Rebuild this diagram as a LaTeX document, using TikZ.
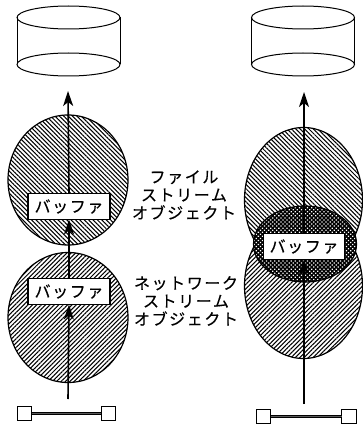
\documentclass[tikz,border=0pt]{standalone}
\usepackage{fontspec}
\newfontfamily\jp[LetterSpace=10,FakeBold=0.4]{Noto Sans CJK JP}
\usetikzlibrary{shapes.geometric,patterns.meta,arrows.meta}
\tikzset{
  lw/.style={line width=1.2pt,draw=black},
  disc/.style={ellipse,line width=1pt,draw=black,inner sep=0pt,outer sep=0pt,minimum width=#1,minimum height=23pt},
  blob/.style n args={2}{ellipse,lw,inner sep=0pt,outer sep=0pt,minimum width=#1,minimum height=#2},
  hatchA/.style={preaction={fill=white},pattern={Lines[angle=45,distance=3.1pt,line width=1.05pt]}},
  hatchB/.style={preaction={fill=white},pattern={Lines[angle=-45,distance=3.1pt,line width=1.05pt]}},
  dotted core/.style={preaction={fill=black},pattern={Dots[radius=0.9pt,distance=2.9pt,angle=45]},pattern color=white},
  buf/.style={rectangle,lw,fill=white,inner sep=0pt,outer sep=0pt,minimum width=#1,minimum height=26pt,font=\jp\fontsize{16}{16}\selectfont},
  flow/.style={line width=1.6pt,-{Stealth[length=15pt,width=10pt,inset=4pt]}},
  port/.style={rectangle,lw,fill=white,inner sep=0pt,outer sep=0pt,minimum size=14.5pt},
  link/.style={line width=1pt,double=gray!70!black,double distance=0.5pt},
  cap text/.style={align=center,font=\jp\fontsize{16}{18}\selectfont,inner sep=0pt}
}
\begin{document}
\begin{tikzpicture}[x=1pt,y=-1pt]
\useasboundingbox (0,0) rectangle (363,425);
% left drum
\node[disc=103pt] (lt) at (68.5,17.5) {};
\node[disc=103pt] (lb) at (68.5,64.5) {};
\draw[line width=1pt] (lt.west) -- (lb.west) (lt.east) -- (lb.east);
% right drum
\node[disc=103pt] (rt) at (303,17.5) {};
\node[disc=103pt] (rb) at (303,64.5) {};
\draw[line width=1pt] (rt.west) -- (rb.west) (rt.east) -- (rb.east);
% left blobs
\node[blob={120pt}{130pt},hatchB] (lu) at (68,180) {};
\node[blob={120pt}{130pt},hatchA] (ll) at (68,317.5) {};
% right blobs
\node[blob={118pt}{145pt},hatchB] (ru) at (303.5,200) {};
\node[blob={118pt}{145pt},hatchA] (rl) at (303.5,286) {};
\node[blob={103pt}{76pt},dotted core] (rc) at (305,244) {};
% buffers
\node[buf=82pt] (bu) at (69,206.5) {バッファ};
\node[buf=82pt] (bl) at (69,291.5) {バッファ};
\node[buf=81pt] (br) at (304,246.5) {バッファ};
% ports
\node[port] (p1) at (24.5,413.5) {};
\node[port] (p2) at (108.5,413.5) {};
\node[port] (p3) at (263.5,416.5) {};
\node[port] (p4) at (349,416.5) {};
\draw[link] (p1) -- (p2);
\draw[link] (p3) -- (p4);
% free ends
\coordinate (ls) at (68,399);
\coordinate (lt2) at (68,91);
\coordinate (rs) at (304,404);
\coordinate (rt2) at (304,92);
% flows
\draw[flow] (ls) -- (bl.south);
\draw[flow] (bl.north) -- (bu.south);
\draw[flow] (bu.north) -- (lt2);
\draw[flow] (rs) -- (br.south);
\draw[flow] (br.north) -- (rt2);
% labels
\node[cap text] (c1) at (184,195) {ファイル\\ストリーム\\オブジェクト};
\node[cap text] (c2) at (186,301) {ネットワーク\\ストリーム\\オブジェクト};
\end{tikzpicture}
\end{document}
